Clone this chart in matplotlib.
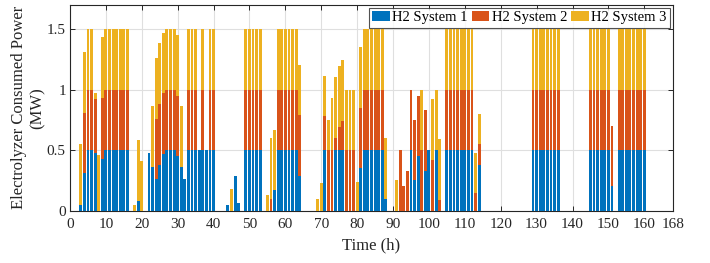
import matplotlib
matplotlib.use("Agg")
import matplotlib.pyplot as plt
import numpy as np

plt.rcParams['font.family'] = ['Liberation Serif', 'DejaVu Serif']

hours = list(range(1, 169))

# H2 System 1 (MW), hours 1..168
sys1 = [
    0, 0, 0.05, 0.31, 0.50, 0.50, 0.48, 0, 0.43, 0.50,          # 1-10
    0.50, 0.50, 0.50, 0.50, 0.50, 0.50, 0, 0, 0.08, 0,          # 11-20
    0, 0.48, 0.36, 0.26, 0.38, 0.47, 0.50, 0.50, 0.50, 0.45,    # 21-30
    0.36, 0.26, 0.50, 0.50, 0.50, 0.50, 0.50, 0.50, 0.50, 0.50, # 31-40
    0, 0, 0, 0.05, 0, 0.29, 0.06, 0, 0.50, 0.50,                # 41-50
    0.50, 0.50, 0.50, 0, 0, 0, 0.17, 0.50, 0.50, 0.50,          # 51-60
    0.50, 0.50, 0.50, 0.29, 0, 0, 0, 0, 0, 0,                   # 61-70
    0.50, 0, 0, 0.50, 0.50, 0.50, 0, 0, 0, 0,                   # 71-80
    0.35, 0.50, 0.50, 0.50, 0.50, 0.50, 0.50, 0.10, 0, 0,       # 81-90
    0, 0, 0, 0, 0.50, 0.25, 0.45, 0, 0.33, 0.50,                # 91-100
    0, 0.50, 0, 0, 0.50, 0.50, 0.50, 0.50, 0.50, 0.50,          # 101-110
    0.50, 0.50, 0, 0.38, 0, 0, 0, 0, 0, 0,                      # 111-120
    0, 0, 0, 0, 0, 0, 0, 0, 0.50, 0.50,                         # 121-130
    0.50, 0.50, 0.50, 0.50, 0.50, 0.50, 0, 0, 0, 0,             # 131-140
    0, 0, 0, 0, 0.50, 0.50, 0.50, 0.50, 0.50, 0.50,             # 141-150
    0.20, 0, 0.50, 0.50, 0.50, 0.50, 0.50, 0.50, 0.50, 0.50,    # 151-160
    0, 0, 0, 0, 0, 0, 0, 0,                                     # 161-168
]

# H2 System 2 (MW)
sys2 = [
    0, 0, 0, 0.50, 0.50, 0.50, 0.44, 0, 0.50, 0.50,
    0.50, 0.50, 0.50, 0.50, 0.50, 0.50, 0, 0, 0, 0,
    0, 0, 0, 0.50, 0.50, 0.50, 0.50, 0.50, 0.50, 0.50,
    0, 0, 0.50, 0.50, 0.50, 0, 0.50, 0, 0.50, 0.50,
    0, 0, 0, 0, 0, 0, 0, 0, 0.50, 0.50,
    0.50, 0.50, 0.50, 0, 0, 0.10, 0, 0.50, 0.50, 0.50,
    0.50, 0.50, 0.50, 0.50, 0, 0, 0, 0, 0, 0,
    0.28, 0.50, 0.50, 0.10, 0.19, 0.24, 0.50, 0.50, 0.50, 0,
    0.50, 0.50, 0.50, 0.50, 0.50, 0.50, 0.50, 0, 0, 0,
    0, 0.50, 0.20, 0.33, 0.50, 0.50, 0.50, 0.50, 0.50, 0,
    0.42, 0, 0.09, 0, 0.50, 0.50, 0.50, 0.50, 0.50, 0.50,
    0.50, 0.50, 0.15, 0.17, 0, 0, 0, 0, 0, 0,
    0, 0, 0, 0, 0, 0, 0, 0, 0.50, 0.50,
    0.50, 0.50, 0.50, 0.50, 0.50, 0.50, 0, 0, 0, 0,
    0, 0, 0, 0, 0.50, 0.50, 0.50, 0.50, 0.50, 0.50,
    0.50, 0, 0.50, 0.50, 0.50, 0.50, 0.50, 0.50, 0.50, 0.50,
    0, 0, 0, 0, 0, 0, 0, 0,
]

# H2 System 3 (MW)
sys3 = [
    0, 0, 0.50, 0.50, 0.50, 0.50, 0.05, 0.46, 0.50, 0.50,
    0.50, 0.50, 0.50, 0.50, 0.50, 0.50, 0, 0.05, 0.50, 0.41,
    0, 0, 0.50, 0.50, 0.50, 0.50, 0.50, 0.50, 0.50, 0.50,
    0.50, 0, 0.50, 0.50, 0.50, 0, 0.50, 0, 0.50, 0.50,
    0, 0, 0, 0, 0.18, 0, 0, 0, 0.50, 0.50,
    0.50, 0.50, 0.50, 0, 0.13, 0.50, 0.50, 0.50, 0.50, 0.50,
    0.50, 0.50, 0.50, 0.41, 0, 0, 0, 0, 0.10, 0.23,
    0.33, 0.25, 0.43, 0.50, 0.50, 0.50, 0.50, 0.50, 0.50, 0.24,
    0.50, 0.50, 0.50, 0.50, 0.50, 0.50, 0.50, 0.50, 0, 0,
    0.25, 0, 0, 0, 0, 0, 0, 0.50, 0, 0,
    0.50, 0.50, 0.50, 0, 0.50, 0.50, 0.50, 0.50, 0.50, 0.50,
    0.50, 0.50, 0.33, 0.25, 0, 0, 0, 0, 0, 0,
    0, 0, 0, 0, 0, 0, 0, 0, 0.50, 0.50,
    0.50, 0.50, 0.50, 0.50, 0.50, 0.50, 0, 0, 0, 0,
    0, 0, 0, 0, 0.50, 0.50, 0.50, 0.50, 0.50, 0.50,
    0, 0, 0.50, 0.50, 0.50, 0.50, 0.50, 0.50, 0.50, 0.50,
    0, 0, 0, 0, 0, 0, 0, 0,
]

labels = ['H2 System 1', 'H2 System 2', 'H2 System 3']
colors = ['#0072BD', '#D95319', '#EDB120']
xticks = [0, 10, 20, 30, 40, 50, 60, 70, 80, 90, 100, 110, 120, 130, 140, 150, 160, 168]
yticks = [0, 0.5, 1, 1.5]
ytick_labels = ['0', '0.5', '1', '1.5']

fig = plt.figure(figsize=(7.1, 2.63), dpi=100)
ax = fig.add_axes([70 / 710, 1 - 210.7 / 263, 603 / 710, 206 / 263])

x = np.array(hours)
s1 = np.array(sys1)
s2 = np.array(sys2)
s3 = np.array(sys3)
ax.bar(x, s1, width=0.8, color=colors[0], label=labels[0], linewidth=0, zorder=3)
ax.bar(x, s2, width=0.8, bottom=s1, color=colors[1], label=labels[1], linewidth=0, zorder=3)
ax.bar(x, s3, width=0.8, bottom=s1 + s2, color=colors[2], label=labels[2], linewidth=0, zorder=3)

ax.set_xlim(0, 168)
ax.set_ylim(0, 1.7)
ax.set_xticks(xticks)
ax.set_yticks(yticks)
ax.set_yticklabels(ytick_labels)
ax.grid(True, color='#dfdfdf', linewidth=0.8, zorder=0)
ax.set_axisbelow(True)
ax.tick_params(direction='in', top=True, right=True, length=3.5, width=0.7,
               colors='#262626', labelsize=11)
ax.tick_params(axis='x', pad=5.5)
ax.tick_params(axis='y', pad=3)
for sp in ax.spines.values():
    sp.set_color('#262626')
    sp.set_linewidth(0.8)

ax.set_xlabel('Time (h)', fontsize=12, color='#262626', labelpad=4)
ax.set_ylabel('Electrolyzer Consumed Power\n(MW)', fontsize=12, color='#262626',
              labelpad=0.5, linespacing=1.28)

leg = ax.legend(loc='upper right', ncol=3, fontsize=10.5, frameon=True, fancybox=False,
                edgecolor='#262626', borderpad=0.25, handlelength=1.2, handleheight=0.65,
                handletextpad=0.15, columnspacing=0.3, borderaxespad=0.2)
leg.get_frame().set_linewidth(0.8)
leg.set_zorder(5)

fig.savefig('out.png', dpi=100)
